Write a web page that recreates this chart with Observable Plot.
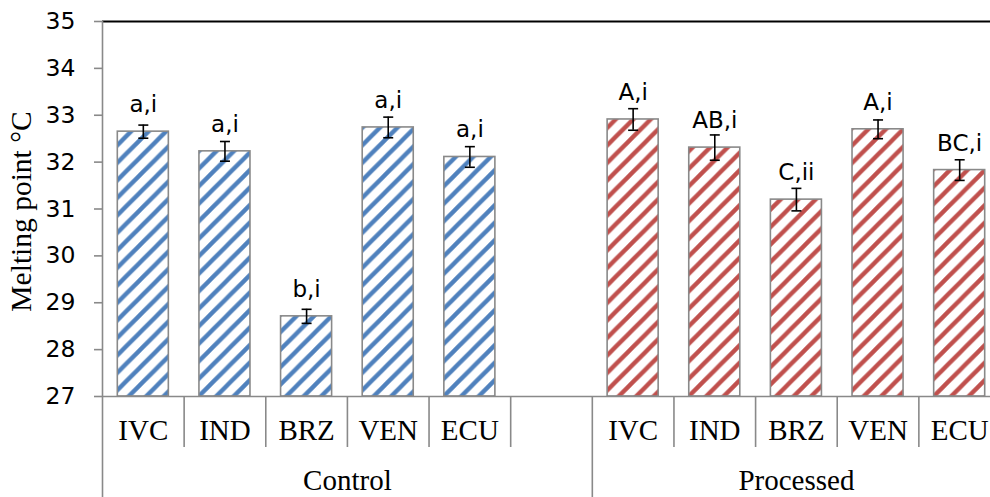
<!DOCTYPE html>
<html><head><meta charset="utf-8">
<script src="https://cdn.jsdelivr.net/npm/d3@7"></script>
<script src="https://cdn.jsdelivr.net/npm/@observablehq/plot@0.6"></script>
<style>
html,body{margin:0;padding:0;background:#fff;overflow:hidden;}
#chart svg{max-width:none;display:block;}
</style></head><body><div id="chart"></div>
<script>
// ---- data ----
const groups = ["Control", "Processed"];
const origins = ["IVC", "IND", "BRZ", "VEN", "ECU"];
const controlValues = [32.65, 32.23, 28.71, 32.74, 32.11];
const controlErrors = [0.14, 0.21, 0.15, 0.22, 0.22];
const controlLabels = ["a,i", "a,i", "b,i", "a,i", "a,i"];
const processedValues = [32.91, 32.31, 31.20, 32.70, 31.83];
const processedErrors = [0.23, 0.27, 0.24, 0.20, 0.22];
const processedLabels = ["A,i", "AB,i", "C,ii", "A,i", "BC,i"];
const yTicks = [27, 28, 29, 30, 31, 32, 33, 34, 35];
const yTitle = "Melting point °C";

// ---- build table (Control group has one empty slot after ECU) ----
const slotsPerGroup = [origins.length + 1, origins.length];
const groupStart = [0, slotsPerGroup[0]];
const totalSlots = slotsPerGroup[0] + slotsPerGroup[1];
const series = [
  {values: controlValues, errors: controlErrors, labels: controlLabels},
  {values: processedValues, errors: processedErrors, labels: processedLabels}
];
const rows = [];
series.forEach((s, g) => origins.forEach((o, i) => rows.push({
  group: groups[g], origin: o, slot: groupStart[g] + i,
  value: s.values[i], err: s.errors[i], label: s.labels[i]
})));
const slotName = new Map(rows.map(d => [d.slot + 0.5, d.origin]));
const groupCenters = groups.map((g, k) => groupStart[k] + slotsPerGroup[k] / 2);
const groupName = new Map(groupCenters.map((c, k) => [c, groups[k]]));
const boundaries = d3.range(0, totalSlots + 1);
const longTicks = groupStart.concat([totalSlots]);
const shortTicks = boundaries.filter(b => !longTicks.includes(b));

const yMin = yTicks[0], yMax = yTicks[yTicks.length - 1];
const gray = "#898989";
const sans = "DejaVu Sans";
const serif = "Liberation Serif";
const capSymbol = {draw(ctx, size) { const r = Math.sqrt(size / Math.PI); ctx.moveTo(-r, 0); ctx.lineTo(r, 0); }};

const barOpts = (fill) => ({
  x1: "slot", x2: d => d.slot + 1, y1: yMin, y2: "value",
  insetLeft: 15.3, insetRight: 15.3, fill, stroke: gray, strokeWidth: 1.6
});

const plot = Plot.plot({
  width: 1000, height: 497,
  marginLeft: 102, marginRight: 0, marginTop: 21, marginBottom: 101,
  style: {maxWidth: "none", background: "#fff"},
  x: {type: "linear", domain: [0, totalSlots], axis: null},
  y: {domain: [yMin, yMax], axis: null},
  marks: [
    Plot.rectY(rows.filter(d => d.group === groups[0]), barOpts("url(#hatchBlue)")),
    Plot.rectY(rows.filter(d => d.group === groups[1]), barOpts("url(#hatchRed)")),
    Plot.ruleY([yMin], {stroke: gray, strokeWidth: 1.6}),
    Plot.ruleY([yMax], {stroke: "#000", strokeWidth: 2.2}),
    Plot.ruleX([0], {y1: yMin, y2: yMax, stroke: gray, strokeWidth: 1.6}),
    Plot.axisY({ticks: yTicks, tickSize: 8, tickFormat: () => "", stroke: gray, strokeWidth: 1.6, label: null}),
    Plot.text(yTicks, {y: d => d, text: d => String(d), frameAnchor: "left", textAnchor: "end", dx: -27,
      fontSize: 23.5, fontFamily: sans, fill: "#000"}),
    Plot.ruleX(rows, {x: d => d.slot + 0.5, y1: d => d.value - d.err, y2: d => d.value + d.err, stroke: "#000", strokeWidth: 1.6}),
    Plot.dot(rows, {x: d => d.slot + 0.5, y: d => d.value + d.err, symbol: capSymbol, r: 5, fill: "none", stroke: "#000", strokeWidth: 1.6}),
    Plot.dot(rows, {x: d => d.slot + 0.5, y: d => d.value - d.err, symbol: capSymbol, r: 5, fill: "none", stroke: "#000", strokeWidth: 1.6}),
    Plot.text(rows, {x: d => d.slot + 0.5, y: "value", text: "label", dy: -19.5, lineAnchor: "bottom",
      fontSize: 23, fontFamily: sans, fill: "#000"}),
    Plot.axisX({ticks: shortTicks, tickSize: 51, tickFormat: () => "", stroke: gray, strokeWidth: 1.6, label: null}),
    Plot.axisX({ticks: longTicks, tickSize: 101, tickFormat: () => "", stroke: gray, strokeWidth: 1.6, label: null}),
    Plot.axisX({ticks: [...slotName.keys()], tickSize: 0, tickPadding: 23.4, tickFormat: v => slotName.get(v),
      fontSize: 29, fontFamily: serif, fill: "#000", label: null}),
    Plot.axisX({ticks: groupCenters, tickSize: 0, tickPadding: 73.4, tickFormat: v => groupName.get(v),
      fontSize: 29, fontFamily: serif, fill: "#000", label: null}),
    Plot.text([yTitle], {frameAnchor: "left", textAnchor: "middle", rotate: -90, dx: -72, dy: 2.5, lineAnchor: "bottom",
      fontSize: 29.5, fontFamily: serif, fill: "#000"})
  ]
});

// hatch patterns
const P = 17.5;
const defs = d3.select(plot).insert("defs", ":first-child");
function hatch(id, color) {
  const p = defs.append("pattern").attr("id", id).attr("patternUnits", "userSpaceOnUse")
    .attr("width", P).attr("height", P);
  p.append("rect").attr("width", P).attr("height", P).attr("fill", "#fff");
  p.append("path")
    .attr("d", `M${-P/2},${P/2}L${P/2},${-P/2}M0,${P}L${P},0M${P/2},${P*1.5}L${P*1.5},${P/2}`)
    .attr("stroke", color).attr("stroke-width", 4.3).attr("fill", "none");
}
hatch("hatchBlue", "#4f81bd");
hatch("hatchRed", "#c0504d");

document.getElementById("chart").appendChild(plot);
</script></body></html>
